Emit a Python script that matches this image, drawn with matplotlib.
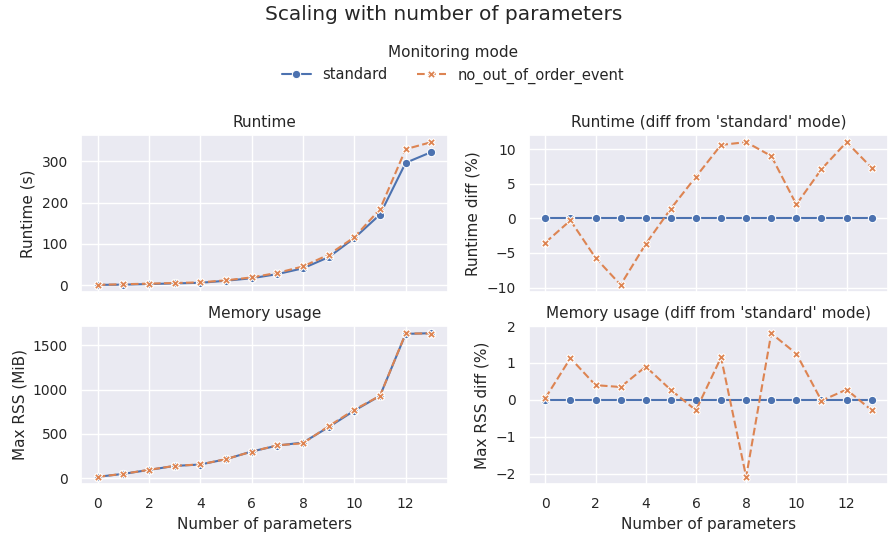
import matplotlib
matplotlib.use("Agg")
import matplotlib.pyplot as plt
import seaborn as sns

sns.set_theme(style="darkgrid")
plt.rcParams.update({
    "axes.titlesize": 11,
    "axes.labelsize": 11,
    "xtick.labelsize": 10,
    "ytick.labelsize": 10,
})

params = list(range(14))
modes = ["standard", "no_out_of_order_event"]

# runtime in seconds
runtime_standard = [1, 1.5, 3, 4.5, 6, 11, 17, 27, 41, 68, 114, 171, 296, 322]
runtime_noorder = [1, 2.5, 4, 5.5, 7, 12, 19, 30, 45.5, 74, 116, 184, 329, 346]

# max RSS in MiB
rss_standard = [15, 48, 93, 138, 154, 214, 301, 368, 402, 577, 763, 930, 1630, 1638]
rss_noorder = [15, 49, 94, 139, 155, 215, 300, 371, 394, 587, 773, 930, 1635, 1634]

# diff from standard mode, in %
runtime_diff_standard = [0] * 14
runtime_diff_noorder = [-3.5, -0.3, -5.7, -9.6, -3.7, 1.4, 6.0, 10.6, 11.0, 9.0, 2.0, 7.1, 11.0, 7.3]
rss_diff_standard = [0] * 14
rss_diff_noorder = [0.05, 1.13, 0.4, 0.35, 0.9, 0.27, -0.28, 1.15, -2.08, 1.8, 1.25, -0.02, 0.28, -0.28]

blue, orange = sns.color_palette()[0], sns.color_palette()[1]

fig = plt.figure(figsize=(8.88, 5.34), dpi=100)
W, H = 888, 534


def add_ax(x0, x1, y0, y1):
    return fig.add_axes([x0 / W, 1 - y1 / H, (x1 - x0) / W, (y1 - y0) / H])


ax_rt = add_ax(81, 448, 135, 292)
ax_rtd = add_ax(529, 888, 135, 292)
ax_mem = add_ax(81, 448, 326, 484)
ax_memd = add_ax(529, 888, 326, 484)


def draw(ax, ys_std, ys_new):
    l1, = ax.plot(params, ys_std, color=blue, marker="o", markersize=6,
                  markeredgecolor="white", markeredgewidth=0.75, lw=1.5,
                  label=modes[0])
    l2, = ax.plot(params, ys_new, color=orange, marker="X", markersize=6,
                  markeredgecolor="white", markeredgewidth=0.75, lw=1.5,
                  linestyle=(0, (3.7, 1.6)), label=modes[1])
    return l1, l2


h = draw(ax_rt, runtime_standard, runtime_noorder)
draw(ax_rtd, runtime_diff_standard, runtime_diff_noorder)
draw(ax_mem, rss_standard, rss_noorder)
draw(ax_memd, rss_diff_standard, rss_diff_noorder)

ax_rt.set_title("Runtime")
ax_rt.set_ylabel("Runtime (s)")
ax_rtd.set_title("Runtime (diff from 'standard' mode)")
ax_rtd.set_ylabel("Runtime diff (%)")
ax_mem.set_title("Memory usage")
ax_mem.set_ylabel("Max RSS (MiB)")
ax_mem.set_xlabel("Number of parameters")
ax_memd.set_title("Memory usage (diff from 'standard' mode)")
ax_memd.set_ylabel("Max RSS diff (%)")
ax_memd.set_xlabel("Number of parameters")

ax_rt.set_yticks([0, 100, 200, 300])
ax_rtd.set_yticks([-10, -5, 0, 5, 10])
ax_mem.set_yticks([0, 500, 1000, 1500])
ax_memd.set_yticks([-2, -1, 0, 1, 2])

for ax in (ax_rt, ax_rtd, ax_mem, ax_memd):
    ax.set_xticks([0, 2, 4, 6, 8, 10, 12])
for ax in (ax_rt, ax_rtd):
    ax.set_xlim(ax_mem.get_xlim())
    ax.tick_params(labelbottom=False)

fig.suptitle("Scaling with number of parameters", fontsize=14.5, y=0.99)
fig.legend(h, modes, title="Monitoring mode", ncol=2, frameon=False,
           loc="upper center", bbox_to_anchor=(0.51, 0.94), fontsize=10.5,
           title_fontsize=11)

fig.savefig("out.png", dpi=100)
